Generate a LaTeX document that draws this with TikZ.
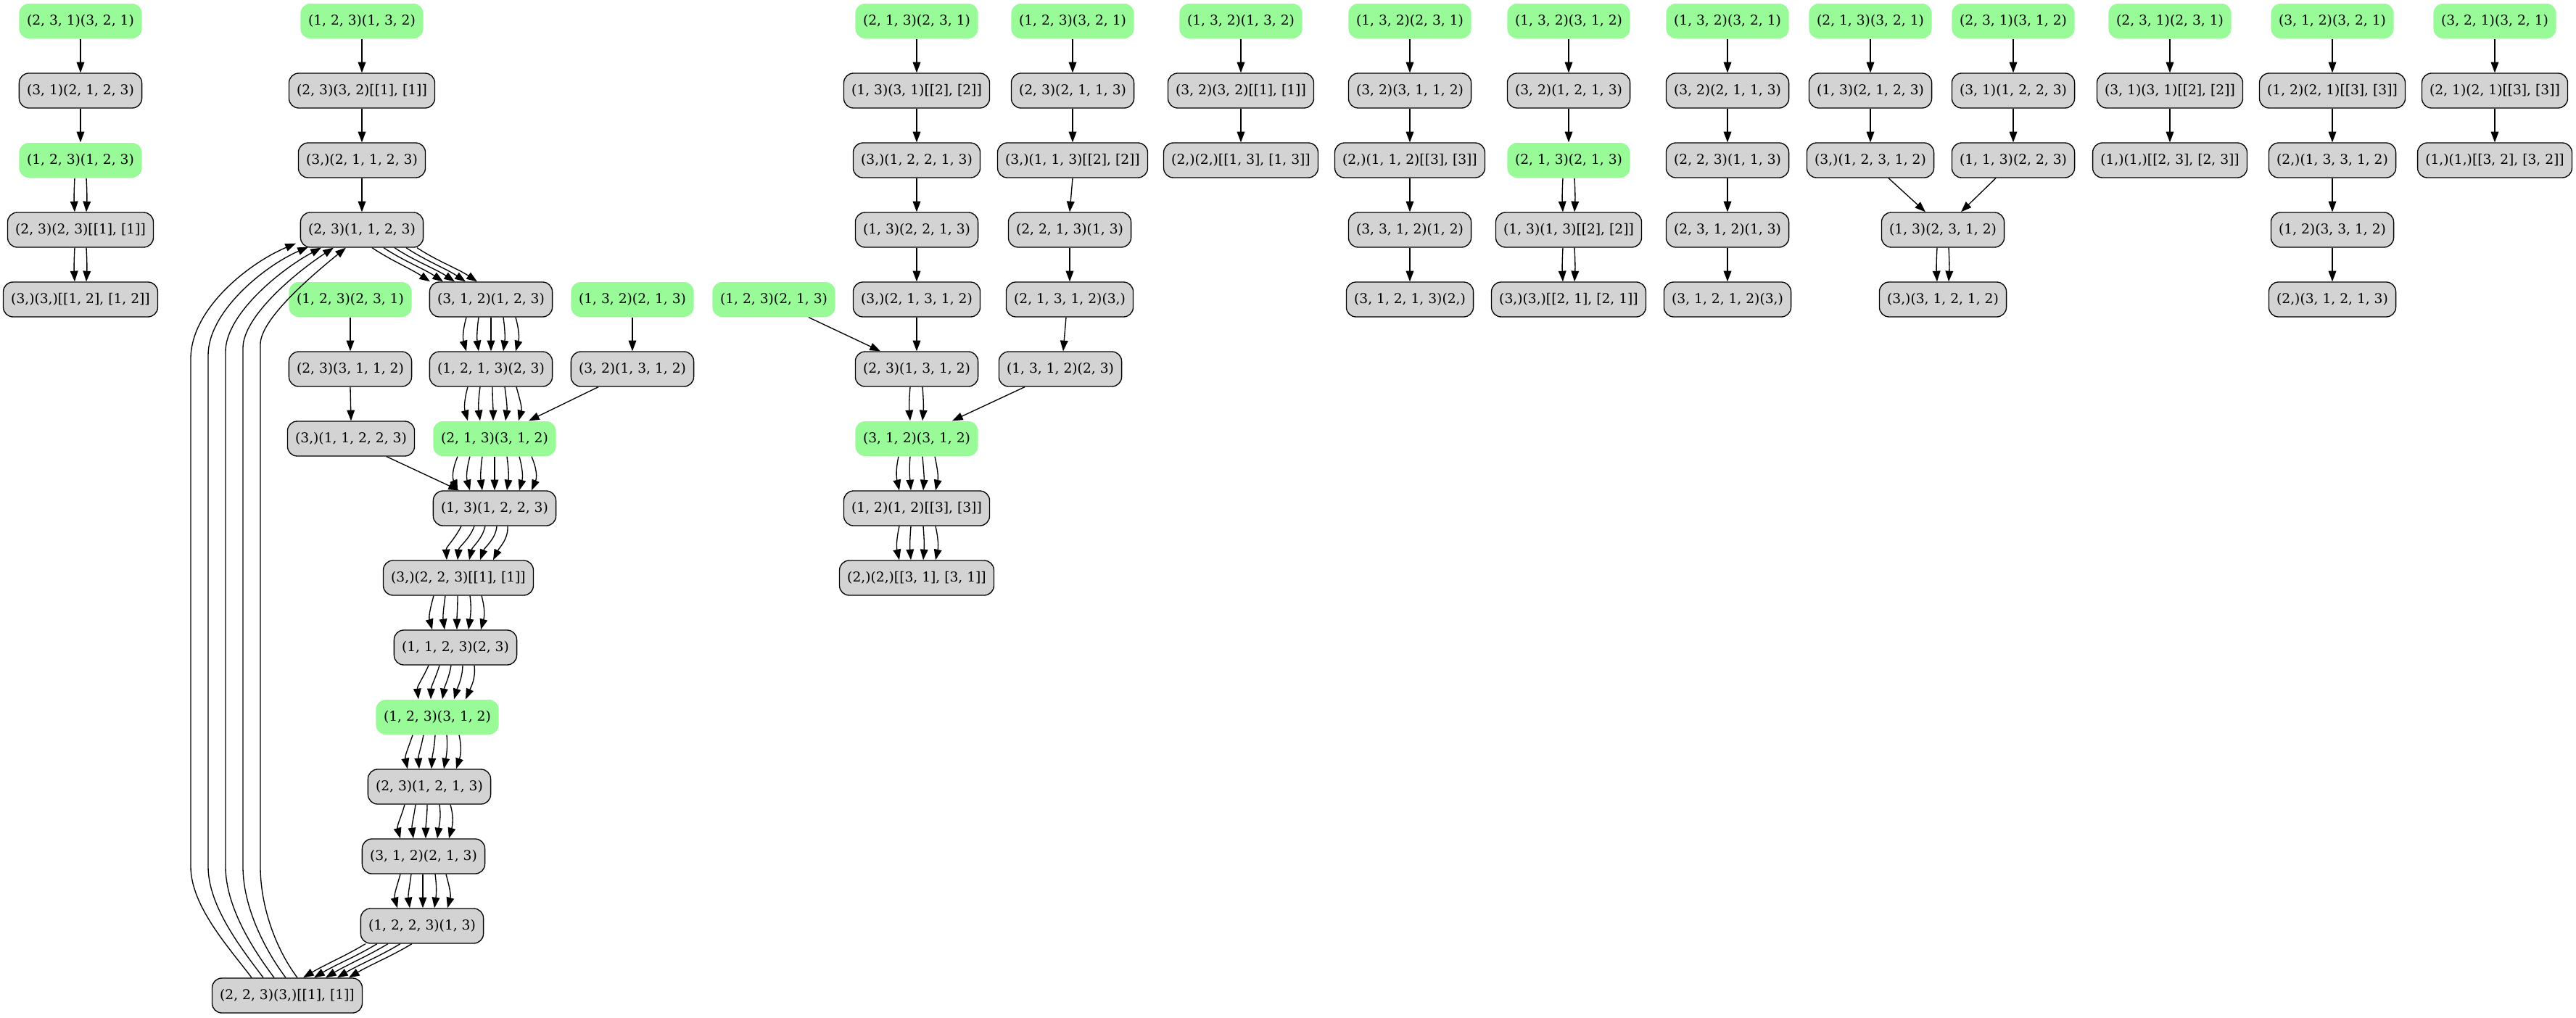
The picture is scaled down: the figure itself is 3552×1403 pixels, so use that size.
\documentclass[tikz,border=0pt]{standalone}
\usepackage{fontspec}
\setmainfont{DejaVu Serif}
\usetikzlibrary{arrows.meta,calc}
\definecolor{palegreen}{HTML}{98FB98}
\definecolor{lgray}{HTML}{D3D3D3}
\tikzset{
  pbox/.style={rounded corners=10pt, minimum height=36pt, inner xsep=8pt, inner ysep=2pt,
    font=\fontsize{14pt}{16pt}\selectfont, line width=1pt},
  gnode/.style={pbox, fill=palegreen},
  pnode/.style={pbox, fill=lgray, draw=black},
  arr/.style={line width=1pt, -{Triangle[length=11pt,width=8pt]}},
}
% bundle of parallel edges: source, target, control x-shift at source, at target,
% list of sourceoffset/targetoffset/bulge
\newcommand{\mgrp}[5]{%
  \foreach \pS/\pT/\pB in {#5}{%
    \draw[arr] ($(#1.south)+(\pS,0)$) .. controls +({#3+(\pB)},18) and +({#4+(\pB)},-18) .. ($(#2.north)+(\pT,0)$);
  }}
\begin{document}
\begin{tikzpicture}[x=0.75pt,y=-0.75pt]
\useasboundingbox (0,0) rectangle (3552,1403);

% ---- column A
\node[gnode] (A1) at (111,29)  {(2, 3, 1)(3, 2, 1)};
\node[pnode] (A2) at (111,125) {(3, 1)(2, 1, 2, 3)};
\node[gnode] (A3) at (111,221) {(1, 2, 3)(1, 2, 3)};
\node[pnode] (A4) at (111,317) {(2, 3)(2, 3)[[1], [1]]};
\node[pnode] (A5) at (111,413) {(3,)(3,)[[1, 2], [1, 2]]};

% ---- large component
\node[gnode] (B1) at (499,29)  {(1, 2, 3)(1, 3, 2)};
\node[pnode] (B2) at (499,125) {(2, 3)(3, 2)[[1], [1]]};
\node[pnode] (B3) at (499,221) {(3,)(2, 1, 1, 2, 3)};
\node[pnode] (B4) at (499,317) {(2, 3)(1, 1, 2, 3)};
\node[gnode] (B5) at (483,413) {(1, 2, 3)(2, 3, 1)};
\node[pnode] (B6) at (677,413) {(3, 1, 2)(1, 2, 3)};
\node[gnode] (B7) at (872,413) {(1, 3, 2)(2, 1, 3)};
\node[gnode] (B8) at (1067,413) {(1, 2, 3)(2, 1, 3)};
\node[pnode] (B9) at (483,509) {(2, 3)(3, 1, 1, 2)};
\node[pnode] (B10) at (677,509) {(1, 2, 1, 3)(2, 3)};
\node[pnode] (B11) at (872,509) {(3, 2)(1, 3, 1, 2)};
\node[pnode] (B12) at (484,605) {(3,)(1, 1, 2, 2, 3)};
\node[gnode] (B13) at (682,605) {(2, 1, 3)(3, 1, 2)};
\node[pnode] (B14) at (682,701) {(1, 3)(1, 2, 2, 3)};
\node[pnode] (B15) at (632,797) {(3,)(2, 2, 3)[[1], [1]]};
\node[pnode] (B16) at (628,893) {(1, 1, 2, 3)(2, 3)};
\node[gnode] (B17) at (603,989) {(1, 2, 3)(3, 1, 2)};
\node[pnode] (B18) at (592,1085) {(2, 3)(1, 2, 1, 3)};
\node[pnode] (B19) at (584,1181) {(3, 1, 2)(2, 1, 3)};
\node[pnode] (B20) at (582,1277) {(1, 2, 2, 3)(1, 3)};
\node[pnode] (B21) at (396,1373) {(2, 2, 3)(3,)[[1], [1]]};

% ---- column C
\node[gnode] (C1) at (1264,29)  {(2, 1, 3)(2, 3, 1)};
\node[pnode] (C2) at (1264,125) {(1, 3)(3, 1)[[2], [2]]};
\node[pnode] (C3) at (1264,221) {(3,)(1, 2, 2, 1, 3)};
\node[pnode] (C4) at (1264,317) {(1, 3)(2, 2, 1, 3)};
\node[pnode] (C5) at (1264,413) {(3,)(2, 1, 3, 1, 2)};
\node[pnode] (C6) at (1264,509) {(2, 3)(1, 3, 1, 2)};
\node[gnode] (C7) at (1264,605) {(3, 1, 2)(3, 1, 2)};
\node[pnode] (C8) at (1264,701) {(1, 2)(1, 2)[[3], [3]]};
\node[pnode] (C9) at (1264,797) {(2,)(2,)[[3, 1], [3, 1]]};

% ---- column D
\node[gnode] (D1) at (1479,29)  {(1, 2, 3)(3, 2, 1)};
\node[pnode] (D2) at (1479,125) {(2, 3)(2, 1, 1, 3)};
\node[pnode] (D3) at (1479,221) {(3,)(1, 1, 3)[[2], [2]]};
\node[pnode] (D4) at (1475,317) {(2, 2, 1, 3)(1, 3)};
\node[pnode] (D5) at (1475,413) {(2, 1, 3, 1, 2)(3,)};
\node[pnode] (D6) at (1462,509) {(1, 3, 1, 2)(2, 3)};

% ---- columns E to M
\node[gnode] (E1) at (1711,29)  {(1, 3, 2)(1, 3, 2)};
\node[pnode] (E2) at (1711,125) {(3, 2)(3, 2)[[1], [1]]};
\node[pnode] (E3) at (1711,221) {(2,)(2,)[[1, 3], [1, 3]]};

\node[gnode] (F1) at (1944,29)  {(1, 3, 2)(2, 3, 1)};
\node[pnode] (F2) at (1944,125) {(3, 2)(3, 1, 1, 2)};
\node[pnode] (F3) at (1944,221) {(2,)(1, 1, 2)[[3], [3]]};
\node[pnode] (F4) at (1944,317) {(3, 3, 1, 2)(1, 2)};
\node[pnode] (F5) at (1944,413) {(3, 1, 2, 1, 3)(2,)};

\node[gnode] (G1) at (2163,29)  {(1, 3, 2)(3, 1, 2)};
\node[pnode] (G2) at (2163,125) {(3, 2)(1, 2, 1, 3)};
\node[gnode] (G3) at (2163,221) {(2, 1, 3)(2, 1, 3)};
\node[pnode] (G4) at (2163,317) {(1, 3)(1, 3)[[2], [2]]};
\node[pnode] (G5) at (2163,413) {(3,)(3,)[[2, 1], [2, 1]]};

\node[gnode] (H1) at (2382,29)  {(1, 3, 2)(3, 2, 1)};
\node[pnode] (H2) at (2382,125) {(3, 2)(2, 1, 1, 3)};
\node[pnode] (H3) at (2382,221) {(2, 2, 3)(1, 1, 3)};
\node[pnode] (H4) at (2382,317) {(2, 3, 1, 2)(1, 3)};
\node[pnode] (H5) at (2382,413) {(3, 1, 2, 1, 2)(3,)};

\node[gnode] (I1) at (2579,29)  {(2, 1, 3)(3, 2, 1)};
\node[pnode] (I2) at (2579,125) {(1, 3)(2, 1, 2, 3)};
\node[pnode] (I3) at (2579,221) {(3,)(1, 2, 3, 1, 2)};
\node[gnode] (J1) at (2776,29)  {(2, 3, 1)(3, 1, 2)};
\node[pnode] (J2) at (2776,125) {(3, 1)(1, 2, 2, 3)};
\node[pnode] (J3) at (2776,221) {(1, 1, 3)(2, 2, 3)};
\node[pnode] (IJ4) at (2679,317) {(1, 3)(2, 3, 1, 2)};
\node[pnode] (IJ5) at (2679,413) {(3,)(3, 1, 2, 1, 2)};

\node[gnode] (K1) at (2992,29)  {(2, 3, 1)(2, 3, 1)};
\node[pnode] (K2) at (2992,125) {(3, 1)(3, 1)[[2], [2]]};
\node[pnode] (K3) at (2992,221) {(1,)(1,)[[2, 3], [2, 3]]};

\node[gnode] (L1) at (3216,29)  {(3, 1, 2)(3, 2, 1)};
\node[pnode] (L2) at (3216,125) {(1, 2)(2, 1)[[3], [3]]};
\node[pnode] (L3) at (3216,221) {(2,)(1, 3, 3, 1, 2)};
\node[pnode] (L4) at (3216,317) {(1, 2)(3, 3, 1, 2)};
\node[pnode] (L5) at (3216,413) {(2,)(3, 1, 2, 1, 3)};

\node[gnode] (M1) at (3440,29)  {(3, 2, 1)(3, 2, 1)};
\node[pnode] (M2) at (3440,125) {(2, 1)(2, 1)[[3], [3]]};
\node[pnode] (M3) at (3440,221) {(1,)(1,)[[3, 2], [3, 2]]};

% ---- single straight edges
\foreach \a/\b in {A1/A2, A2/A3, B1/B2, B2/B3, B3/B4, B5/B9, B9/B12, B7/B11,
    C1/C2, C2/C3, C3/C4, C4/C5, C5/C6, D1/D2, D2/D3, D3/D4, D4/D5,
    E1/E2, E2/E3, F1/F2, F2/F3, F3/F4, F4/F5, G1/G2, G2/G3,
    H1/H2, H2/H3, H3/H4, H4/H5, I1/I2, I2/I3, J1/J2, J2/J3,
    K1/K2, K2/K3, L1/L2, L2/L3, L3/L4, L4/L5, M1/M2, M2/M3}
  \draw[arr] (\a.south) -- (\b.north);

% ---- slanted single edges
\draw[arr] ($(D5.south)+(-5,0)$) -- ($(D6.north)+(4,0)$);
\draw[arr] ($(B11.south)+(-47,0)$) -- ($(B13.north)+(47,0)$);
\draw[arr] ($(B12.south)+(49,0)$) -- ($(B14.north)+(-49,0)$);
\draw[arr] ($(B8.south)+(48,0)$) -- ($(C6.north)+(-50,0)$);
\draw[arr] ($(D6.south)+(-49,0)$) -- ($(C7.north)+(49,0)$);
\draw[arr] ($(I3.south)+(25,0)$) -- ($(IJ4.north)+(-24,0)$);
\draw[arr] ($(J3.south)+(-24,0)$) -- ($(IJ4.north)+(25,0)$);

% ---- bundles of parallel edges
\mgrp{A3}{A4}{0}{0}{-8/-8/-1, 8/8/1}
\mgrp{A4}{A5}{0}{0}{-8/-8/-1, 8/8/1}
\mgrp{B4}{B6}{27}{-27}{14/-84/0, 30/-66/0, 45/-50/0, 61/-35/0, 76/-19/0}
\mgrp{B6}{B10}{0}{0}{-34/-34/-5, -17/-17/-2.5, 0/0/0, 17/17/2.5, 34/34/5}
\mgrp{B10}{B13}{0}{0}{-32/-37/-5, -15/-20/-2.5, 2/-2/0, 19/15/2.5, 35/33/5}
\mgrp{B13}{B14}{0}{0}{-51/-51/-7.5, -34/-34/-5, -17/-17/-2.5, 0/0/0, 17/17/2.5, 34/34/5, 51/51/7.5}
\mgrp{B14}{B15}{-4}{4}{-46/-16/-5, -28/-1/-2.5, -13/15/0, 3/30/2.5, 18/48/5}
\mgrp{B15}{B16}{0}{0}{-34/-32/-5, -18/-15/-2.5, -1/2/0, 16/18/2.5, 32/35/5}
\mgrp{B16}{B17}{-3}{3}{-37/-26/-5, -22/-9/-2.5, -6/7/0, 10/23/2.5, 26/39/5}
\mgrp{B17}{B18}{-1}{1}{-34/-30/-5, -19/-14/-2.5, -3/3/0, 13/20/2.5, 30/37/5}
\mgrp{B18}{B19}{0}{0}{-34/-32/-5, -19/-14/-2.5, -3/3/0, 14/19/2.5, 29/35/5}
\mgrp{B19}{B20}{0}{0}{-32/-34/-5, -17/-17/-2.5, -1/1/0, 16/17/2.5, 31/35/5}
\mgrp{B20}{B21}{-30}{30}{-78/22/0, -62/37/0, -47/53/0, -30/69/0, -14/85/0}
\mgrp{C6}{C7}{0}{0}{-9/-9/-1.5, 8/8/1.5}
\mgrp{C7}{C8}{0}{0}{-25/-24/-4, -9/-8/-1.5, 8/9/1.5, 25/26/4}
\mgrp{C8}{C9}{0}{0}{-24/-24/-4, -8/-8/-1.5, 9/9/1.5, 26/26/4}
\mgrp{G3}{G4}{0}{0}{-8/-8/-1, 8/8/1}
\mgrp{G4}{G5}{0}{0}{-8/-8/-1, 8/8/1}
\mgrp{IJ4}{IJ5}{0}{0}{-8/-8/-1, 8/8/1}

% ---- long return edges on the left
\foreach \sx/\v/\yt/\cy/\cx/\cyy/\ex/\ey in {
    -49/263/495/425/345/362/-91/-6,
    -33/287/490/429/366/366/-74/-1,
    -18/311/485/433/388/371/-56/0,
    -2/335/480/436/409/375/-39/0,
    14/359/475/440/430/380/-22/0}
  \draw[arr] ($(B21.north)+(\sx,0)$) .. controls +(-30,-40) and (\v,1250) .. (\v,1195)
    -- (\v,\yt) .. controls (\v,\cy) and (\cx,\cyy) .. ($(B4.south)+(\ex,\ey)$);
\end{tikzpicture}
\end{document}
